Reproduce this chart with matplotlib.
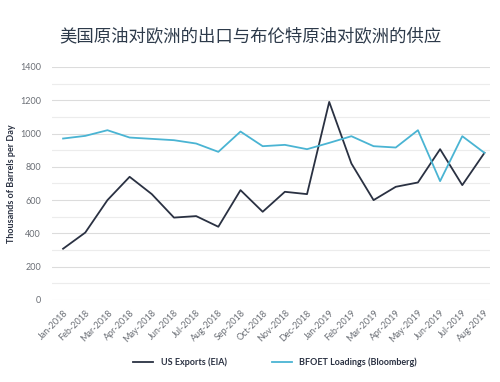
import matplotlib.pyplot as plt
from matplotlib.ticker import MultipleLocator

months = ["Jan-2018", "Feb-2018", "Mar-2018", "Apr-2018", "May-2018", "Jun-2018",
          "Jul-2018", "Aug-2018", "Sep-2018", "Oct-2018", "Nov-2018", "Dec-2018",
          "Jan-2019", "Feb-2019", "Mar-2019", "Apr-2019", "May-2019", "Jun-2019",
          "Jul-2019", "Aug-2019"]

us_exports = [308, 405, 600, 740, 636, 495, 504, 440, 660, 530, 650, 636,
              1190, 820, 600, 680, 706, 906, 690, 884]

bfoet = [970, 986, 1020, 976, 968, 960, 940, 890, 1012, 924, 932, 906,
         944, 984, 924, 916, 1020, 714, 984, 884]

title = "美国原油对欧洲的出口与布伦特原油对欧洲的供应"

dark = "#2a3142"
blue = "#4ab4d3"
grey = "#6b6f76"

plt.rcParams['font.family'] = ['Lato', 'DejaVu Sans']

fig = plt.figure(figsize=(5, 3.82), dpi=100)
ax = fig.add_axes([0.104, 0.2147, 0.876, 0.61])

x = list(range(len(months)))
ax.plot(x, us_exports, color=dark, lw=1.3, label="US Exports (EIA)")
ax.plot(x, bfoet, color=blue, lw=1.3, label="BFOET Loadings (Bloomberg)")

ax.set_xlim(-0.5, 19.25)
ax.set_ylim(0, 1400)
ax.yaxis.set_major_locator(MultipleLocator(200))
ax.yaxis.set_minor_locator(MultipleLocator(100))
ax.grid(axis="y", which="major", color="#dcdcdc", lw=0.8)
ax.grid(axis="y", which="minor", color="#ececec", lw=0.8)
ax.set_axisbelow(True)
for s in ax.spines.values():
    s.set_visible(False)
ax.tick_params(axis="both", which="both", length=0, colors=grey, labelsize=6.5)
ax.tick_params(axis="y", pad=8)

ax.set_xticks(x)
ax.set_xticklabels(months, rotation=45, ha="right", rotation_mode="anchor")
ax.tick_params(axis="x", pad=6)

ax.set_ylabel("Thousands of Barrels per Day", fontsize=6.5, fontweight="bold",
              color=dark, labelpad=3)

fig.text(0.5, 0.905, title, ha="center", va="center", fontsize=12.5,
         color="#2d3a4a", family=['Noto Sans CJK SC', 'DejaVu Sans'])

fig.legend(loc="center", bbox_to_anchor=(0.55, 0.052), ncol=2, frameon=False,
           handlelength=2.2, columnspacing=5,
           prop={'weight': 'bold', 'size': 6.5})
for t in fig.legends[0].get_texts():
    t.set_color(dark)

fig.savefig("out.png", dpi=100, facecolor="white")
